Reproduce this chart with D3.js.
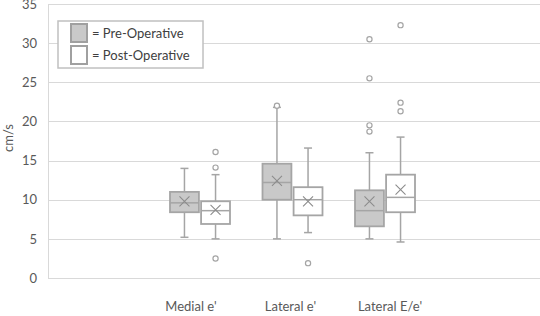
<!DOCTYPE html>
<html>
<head>
<meta charset="utf-8">
<script src="https://cdn.jsdelivr.net/npm/d3@7"></script>
<style>
  body { margin: 0; background: #fff; }
  text { font-family: Lato, "Open Sans", sans-serif; fill: #595959; }
</style>
</head>
<body>
<div class="chart"></div>
<script>
// values
const categories = ["Medial e'", "Lateral e'", "Lateral E/e'"]
const series = ["Pre-Operative", "Post-Operative"]
const yTicks = [0, 5, 10, 15, 20, 25, 30, 35]

// [min, q1, median, q3, max, mean] per category
const preStats = [
    [5.2, 8.4, 9.6, 11.0, 14.0, 9.8],
    [5.0, 10.0, 12.2, 14.6, 21.8, 12.4],
    [5.0, 6.6, 8.6, 11.2, 16.0, 9.8]
]
const postStats = [
    [5.0, 6.9, 8.6, 9.8, 13.2, 8.7],
    [5.8, 8.0, 10.0, 11.6, 16.6, 9.8],
    [4.6, 8.4, 10.3, 13.2, 18.0, 11.3]
]
const preOutliers = [[], [22.0], [30.5, 25.5, 19.5, 18.7]]
const postOutliers = [[16.1, 14.1, 2.5], [1.9], [32.3, 22.4, 21.3]]

const w = 540
const h = 316
const margin = {top: 4, right: 0, bottom: 38, left: 48}

const svg = d3.select(".chart")
    .append("svg")
    .attr("width", w)
    .attr("height", h)

const y = d3.scaleLinear()
    .domain([0, 35])
    .range([h - margin.bottom, margin.top])

// box groups
const x = d3.scaleBand()
    .domain(categories)
    .range([153.75, 431.25])

const sub = d3.scaleBand()
    .domain(series)
    .range([-30, 30])
    .paddingInner(0.07)

// category labels sit a bit apart from the boxes in the original
const labelX = d3.scalePoint()
    .domain(categories)
    .range([191, 390])

const gray = "#a5a5a5"

// gridlines
svg.append("g")
    .selectAll("line")
    .data(yTicks)
    .join("line")
    .attr("x1", margin.left)
    .attr("x2", w)
    .attr("y1", d => Math.round(y(d)) + 0.5)
    .attr("y2", d => Math.round(y(d)) + 0.5)
    .attr("stroke", "#d9d9d9")

svg.append("line")
    .attr("x1", margin.left + 0.5)
    .attr("x2", margin.left + 0.5)
    .attr("y1", y(35))
    .attr("y2", y(0))
    .attr("stroke", "#d9d9d9")

// y axis labels
const leftAxis = svg.append("g")
    .attr("transform", `translate(${margin.left - 4}, 0)`)
    .call(d3.axisLeft(y).tickValues(yTicks).tickSize(0).tickPadding(7))
leftAxis.select(".domain").remove()
leftAxis.selectAll("text").style("font-size", "13px").attr("fill", "#595959")

svg.append("text")
    .attr("transform", "translate(13, 138) rotate(-90)")
    .attr("text-anchor", "middle")
    .style("font-size", "13px")
    .text("cm/s")

// category labels
svg.append("g")
    .selectAll("text")
    .data(categories)
    .join("text")
    .attr("x", d => labelX(d))
    .attr("y", 311)
    .attr("text-anchor", "middle")
    .style("font-size", "13px")
    .text(d => d)

// boxes
const boxData = []
categories.forEach((c, i) => {
    boxData.push({cat: c, s: series[0], st: preStats[i], out: preOutliers[i], fill: "#c9c9c9"})
    boxData.push({cat: c, s: series[1], st: postStats[i], out: postOutliers[i], fill: "#ffffff"})
})

const bw = sub.bandwidth()
const boxes = svg.append("g")
    .selectAll("g")
    .data(boxData)
    .join("g")
    .attr("transform", d => `translate(${x(d.cat) + x.bandwidth() / 2 + sub(d.s)}, 0)`)

// whiskers
boxes.append("line")
    .attr("x1", bw / 2).attr("x2", bw / 2)
    .attr("y1", d => y(d.st[0])).attr("y2", d => y(d.st[4]))
    .attr("stroke", gray).attr("stroke-width", 1.5)

boxes.selectAll(".cap")
    .data(d => [d.st[0], d.st[4]])
    .join("line")
    .attr("class", "cap")
    .attr("x1", bw / 2 - 4).attr("x2", bw / 2 + 4)
    .attr("y1", d => y(d)).attr("y2", d => y(d))
    .attr("stroke", gray).attr("stroke-width", 1.5)

boxes.append("rect")
    .attr("x", 0)
    .attr("width", bw)
    .attr("y", d => y(d.st[3]))
    .attr("height", d => y(d.st[1]) - y(d.st[3]))
    .attr("fill", d => d.fill)
    .attr("stroke", gray)
    .attr("stroke-width", 1.8)

// median
boxes.append("line")
    .attr("x1", 0).attr("x2", bw)
    .attr("y1", d => y(d.st[2])).attr("y2", d => y(d.st[2]))
    .attr("stroke", gray).attr("stroke-width", 1.5)

// mean marker
const m = 5
boxes.append("path")
    .attr("d", d => {
        const cy = y(d.st[5]), cx = bw / 2
        return `M${cx - m},${cy - m}L${cx + m},${cy + m}M${cx - m},${cy + m}L${cx + m},${cy - m}`
    })
    .attr("stroke", "#8c8c8c").attr("stroke-width", 1.1).attr("fill", "none")

// outliers
boxes.selectAll("circle")
    .data(d => d.out)
    .join("circle")
    .attr("cx", bw / 2)
    .attr("cy", d => y(d))
    .attr("r", 2.6)
    .attr("fill", "#fff")
    .attr("stroke", gray)
    .attr("stroke-width", 1.2)

// legend
const legend = svg.append("g")
legend.append("rect")
    .attr("x", 58).attr("y", 21)
    .attr("width", 145).attr("height", 47)
    .attr("fill", "#fff")
    .attr("stroke", "#c0c0c0")
    .attr("stroke-width", 1.5)

const items = legend.selectAll(".item")
    .data(series)
    .join("g")
    .attr("class", "item")
    .attr("transform", (d, i) => `translate(71, ${24 + i * 22})`)

items.append("rect")
    .attr("width", 16).attr("height", 18)
    .attr("fill", (d, i) => i === 0 ? "#c9c9c9" : "#fff")
    .attr("stroke", "#a0a0a0")
    .attr("stroke-width", 2)

items.append("text")
    .attr("x", 21).attr("y", 14)
    .style("font-size", "13px")
    .attr("fill", "#404040")
    .style("fill", "#404040")
    .text(d => "= " + d)
</script>
</body>
</html>
